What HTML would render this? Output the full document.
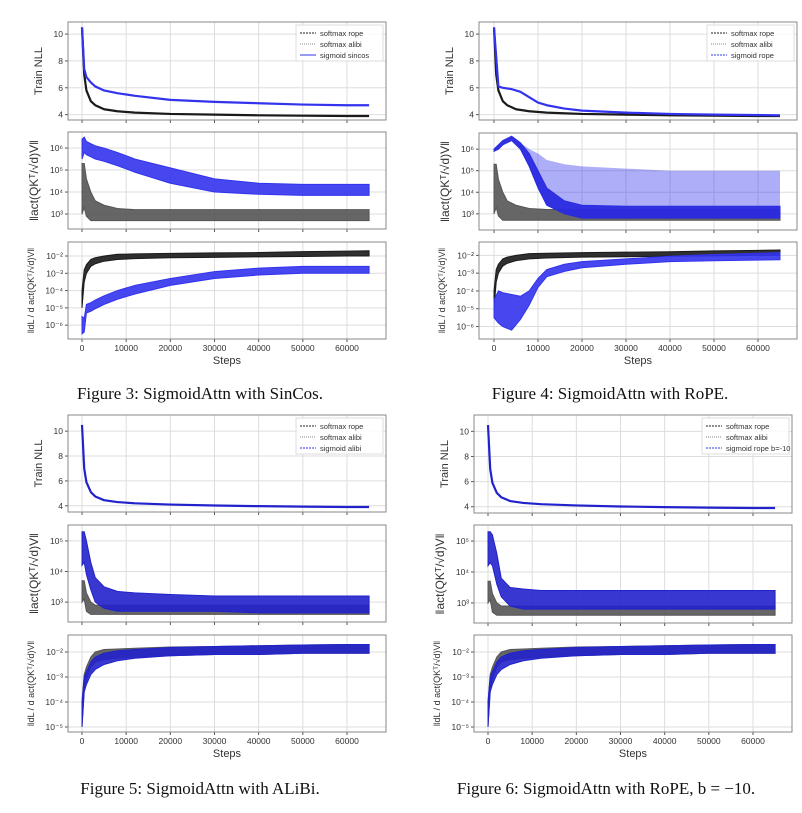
<!DOCTYPE html>
<html><head><meta charset="utf-8">
<style>
body{margin:0;background:#fff;width:802px;height:808px;overflow:hidden}
svg text{font-family:"Liberation Sans",sans-serif}
.cap{font-family:"Liberation Serif",serif;font-size:17px;fill:#111}
</style></head>
<body>
<svg id="chart" width="802" height="808" viewBox="0 0 802 808" xmlns="http://www.w3.org/2000/svg"></svg>
<script>
// ---- data ----
const steps = [0, 500, 1000, 2000, 3000, 5000, 8000, 12000, 20000, 30000, 40000, 50000, 60000, 65000];
const xTicks = [0, 10000, 20000, 30000, 40000, 50000, 60000];
const nllTicks = [4, 6, 8, 10];
// Figure 3
const f3NllSoft = [10.5, 7.0, 5.8, 5.0, 4.7, 4.4, 4.25, 4.15, 4.05, 4.0, 3.95, 3.92, 3.9, 3.9];
const f3NllSig = [10.5, 7.4, 6.8, 6.4, 6.1, 5.8, 5.6, 5.4, 5.1, 4.95, 4.85, 4.75, 4.7, 4.7];
const f3ActSoftLo = [3.0, 3.3, 2.9, 2.7, 2.7, 2.7, 2.7, 2.7, 2.7, 2.7, 2.7, 2.7, 2.7, 2.7];
const f3ActSoftHi = [5.3, 5.3, 4.6, 4.0, 3.6, 3.4, 3.25, 3.2, 3.2, 3.2, 3.2, 3.2, 3.2, 3.2];
const f3ActSigLo = [5.5, 5.8, 5.7, 5.6, 5.5, 5.4, 5.2, 4.9, 4.4, 4.0, 3.9, 3.85, 3.85, 3.85];
const f3ActSigHi = [6.4, 6.5, 6.3, 6.2, 6.1, 6.0, 5.8, 5.5, 5.1, 4.6, 4.4, 4.35, 4.35, 4.35];
const f3GrSoftLo = [-5.0, -3.5, -3.0, -2.6, -2.45, -2.3, -2.2, -2.15, -2.1, -2.08, -2.05, -2.03, -2.0, -2.0];
const f3GrSoftHi = [-4.0, -2.8, -2.5, -2.2, -2.1, -2.0, -1.9, -1.88, -1.85, -1.82, -1.8, -1.75, -1.72, -1.7];
const f3GrSigLo = [-6.5, -6.4, -5.3, -5.2, -5.05, -4.8, -4.5, -4.2, -3.7, -3.3, -3.1, -3.0, -3.0, -3.0];
const f3GrSigHi = [-5.5, -5.6, -4.8, -4.7, -4.55, -4.3, -4.0, -3.7, -3.3, -2.9, -2.7, -2.6, -2.6, -2.6];
// Figure 4
const f4Steps = [0, 1000, 2000, 4000, 6000, 8000, 10000, 12000, 16000, 20000, 30000, 40000, 50000, 65000];
const f4NllSig = [10.5, 6.1, 6.0, 5.9, 5.7, 5.3, 4.9, 4.7, 4.45, 4.3, 4.15, 4.05, 4.0, 3.95];
const f4ActSigLo = [5.9, 6.0, 6.2, 6.4, 6.0, 5.2, 4.2, 3.4, 3.0, 2.8, 2.8, 2.8, 2.8, 2.8];
const f4ActSigHi = [6.0, 6.2, 6.4, 6.6, 6.3, 5.8, 5.0, 4.2, 3.6, 3.4, 3.35, 3.35, 3.35, 3.35];
const f4ActSpikeHi = [6.0, 6.2, 6.4, 6.6, 6.3, 6.0, 5.8, 5.5, 5.3, 5.2, 5.1, 5.0, 5.0, 5.0];
const f4GrSigLo = [-5.5, -5.8, -6.0, -6.2, -5.6, -4.8, -3.8, -3.2, -2.9, -2.7, -2.5, -2.35, -2.3, -2.25];
const f4GrSigHi = [-4.5, -4.0, -4.1, -4.2, -4.3, -4.0, -3.3, -2.8, -2.5, -2.35, -2.2, -2.05, -1.95, -1.85];
// Figures 5/6
const f5NllAll = [10.5, 7.0, 5.9, 5.1, 4.75, 4.45, 4.3, 4.2, 4.1, 4.02, 3.97, 3.93, 3.9, 3.9];
const f5ActSoftLo = [3.0, 3.1, 2.7, 2.6, 2.6, 2.6, 2.6, 2.6, 2.6, 2.6, 2.6, 2.6, 2.6, 2.6];
const f5ActSoftHi = [3.7, 3.7, 3.3, 3.0, 2.9, 2.9, 2.9, 2.9, 2.9, 2.9, 2.9, 2.9, 2.9, 2.9];
const f5ActSigLo = [4.2, 4.3, 3.9, 3.4, 3.0, 2.8, 2.7, 2.7, 2.7, 2.7, 2.65, 2.65, 2.65, 2.65];
const f5ActSigHi = [5.3, 5.3, 5.0, 4.3, 3.8, 3.5, 3.35, 3.3, 3.25, 3.2, 3.2, 3.2, 3.2, 3.2];
const f6ActSigLo = [4.2, 4.3, 4.2, 3.6, 3.2, 2.9, 2.8, 2.8, 2.8, 2.8, 2.8, 2.8, 2.8, 2.8];
const f6ActSigHi = [5.3, 5.3, 5.2, 4.6, 3.8, 3.5, 3.45, 3.4, 3.4, 3.4, 3.4, 3.4, 3.4, 3.4];
const f5GrSoftLo = [-5.0, -3.5, -3.1, -2.6, -2.4, -2.3, -2.25, -2.2, -2.15, -2.1, -2.1, -2.05, -2.05, -2.05];
const f5GrSoftHi = [-4.0, -2.9, -2.6, -2.2, -2.0, -1.9, -1.88, -1.85, -1.8, -1.78, -1.75, -1.72, -1.7, -1.7];
const f5GrSigLo = [-5.0, -3.6, -3.3, -2.9, -2.7, -2.5, -2.35, -2.25, -2.15, -2.1, -2.1, -2.05, -2.05, -2.05];
const f5GrSigHi = [-4.0, -3.0, -2.8, -2.4, -2.2, -2.05, -1.95, -1.9, -1.82, -1.78, -1.75, -1.72, -1.7, -1.7];

const NS = "http://www.w3.org/2000/svg";
const svg = document.getElementById('chart');
function el(tag, attrs, parent, text) {
  const e = document.createElementNS(NS, tag);
  for (const k in attrs) e.setAttribute(k, attrs[k]);
  if (text !== undefined) e.textContent = text;
  (parent || svg).appendChild(e);
  return e;
}
const SUP = {'-':'⁻','0':'⁰','1':'¹','2':'²','3':'³','4':'⁴','5':'⁵','6':'⁶'};
function supStr(n){return String(n).split('').map(c=>SUP[c]).join('');}

function panel(g, fig, top, bot, yMin, yMax, yticks, isLog, series, name) {
  const pg = el('g', {}, g);
  
  
  const X = s => fig.x0 + (s / 60000) * (fig.x60 - fig.x0);
  const Y = v => bot - (v - yMin) / (yMax - yMin) * (bot - top);
  el('rect', {x: fig.px0, y: top, width: fig.px1 - fig.px0, height: bot - top, fill: '#fff'}, pg);
  xTicks.forEach(t => el('line', {x1: X(t), x2: X(t), y1: top, y2: bot, stroke: '#ddd', 'stroke-width': 1}, pg));
  yticks.forEach(t => {
    el('line', {x1: fig.px0, x2: fig.px1, y1: Y(t), y2: Y(t), stroke: '#ddd', 'stroke-width': 1}, pg);
    el('line', {x1: fig.px0 - 3, x2: fig.px0, y1: Y(t), y2: Y(t), stroke: '#555'}, pg);
    const lab = el('text', {x: fig.px0 - 5, y: Y(t) + 3, 'font-size': 8.5, fill: '#333', 'text-anchor': 'end'}, pg, isLog ? '10' + supStr(t) : String(t));
    
    
  });
  xTicks.forEach(t => el('line', {x1: X(t), x2: X(t), y1: bot, y2: bot + 3, stroke: '#555'}, pg));
  series.forEach(s => {
    const st = s.steps || steps;
    let mark;
    if (s.line) {
      const pts = st.map((x, i) => X(x) + ',' + Y(s.line[i])).join(' ');
      mark = el('polyline', {points: pts, fill: 'none', stroke: s.color, 'stroke-width': s.w || 2.2, 'stroke-linejoin': 'round'}, pg);
    } else {
      const up = st.map((x, i) => X(x) + ',' + Y(s.hi[i]));
      const dn = st.map((x, i) => X(x) + ',' + Y(s.lo[i])).reverse();
      mark = el('polygon', {points: up.concat(dn).join(' '), fill: s.color, 'fill-opacity': s.op || 0.9, stroke: s.color, 'stroke-width': s.sw === undefined ? 1 : s.sw}, pg);
    }
    
    
  });
  el('rect', {x: fig.px0, y: top, width: fig.px1 - fig.px0, height: bot - top, fill: 'none', stroke: '#888', 'stroke-width': 1}, pg);
  return {X, Y};
}

function figure(fig) {
  const g = el('g', {});
  
  
  const [p1, p2, p3] = fig.panels;
  panel(g, fig, p1[0], p1[1], p1[2], p1[3], nllTicks, false, fig.s1, 'train-nll-panel');
  panel(g, fig, p2[0], p2[1], p2[2], p2[3], p2[4], true, fig.s2, 'activation-norm-panel');
  const r = panel(g, fig, p3[0], p3[1], p3[2], p3[3], p3[4], true, fig.s3, 'gradient-norm-panel');
  xTicks.forEach(t => {
    const tl = el('text', {x: r.X(t), y: p3[1] + 12, 'font-size': 8.5, fill: '#333', 'text-anchor': 'middle'}, g, String(t));
    
    
  });
  const xt = el('text', {x: (fig.px0 + fig.px1) / 2, y: p3[1] + 25, 'font-size': 11, fill: '#333', 'text-anchor': 'middle'}, g, 'Steps');
  
  
  const yl = (yc, txt, fs, xoff) => {
    const t = el('text', {x: 0, y: 0, 'font-size': fs, fill: '#333', 'text-anchor': 'middle', transform: `translate(${fig.px0 - xoff},${yc}) rotate(-90)`}, g, txt);
    
    
  };
  yl((p1[0] + p1[1]) / 2, 'Train NLL', 11, 26);
  yl((p2[0] + p2[1]) / 2, '‖act(QKᵀ/√d)V‖', 12, 30);
  yl((p3[0] + p3[1]) / 2, '‖dL / d act(QKᵀ/√d)V‖', 9, 34);
  const lx = fig.px1 - 90, ly = p1[0] + 3;
  const lg = el('g', {}, g);
  
  
  el('rect', {x: lx, y: ly, width: 87, height: 36, fill: '#fff', 'fill-opacity': 0.85, stroke: '#ddd'}, lg);
  fig.legend.forEach((L, i) => {
    const yy = ly + 8 + i * 11;
    const e = el('g', {}, lg);
    
    
    el('line', {x1: lx + 4, x2: lx + 20, y1: yy, y2: yy, stroke: L[1], 'stroke-width': 1, 'stroke-dasharray': L[2]}, e);
    el('text', {x: lx + 24, y: yy + 3, 'font-size': 7.5, fill: '#333'}, e, L[0]);
  });
  const cap = el('text', {x: fig.capX, y: fig.capY, class: 'cap', 'text-anchor': 'middle'}, g, fig.caption);
  
  
}

const BLK = '#1a1a1a', GRY = '#555', BLU = '#3333ee', DBL = '#2222cc';
const leg = (third) => [['softmax rope', '#222', '2,1'], ['softmax alibi', '#888', '1,1'], [third, BLU, third.indexOf('sincos') >= 0 ? '' : '2,1']];

figure({name: 'figure-3', px0: 68, px1: 386, x0: 82, x60: 347, capX: 200, capY: 399, caption: 'Figure 3: SigmoidAttn with SinCos.',
  panels: [[22, 120, 3.6, 10.9], [132, 229, 2.32, 6.73, [3, 4, 5, 6]], [242, 339, -6.8, -1.19, [-6, -5, -4, -3, -2]]],
  legend: leg('sigmoid sincos'),
  s1: [{name: 'nll-softmax', line: f3NllSoft, color: BLK}, {name: 'nll-sigmoid', line: f3NllSig, color: BLU}],
  s2: [{name: 'act-sigmoid', lo: f3ActSigLo, hi: f3ActSigHi, color: BLU}, {name: 'act-softmax', lo: f3ActSoftLo, hi: f3ActSoftHi, color: GRY}],
  s3: [{name: 'grad-softmax', lo: f3GrSoftLo, hi: f3GrSoftHi, color: BLK}, {name: 'grad-sigmoid', lo: f3GrSigLo, hi: f3GrSigHi, color: BLU}]});

figure({name: 'figure-4', px0: 479, px1: 797, x0: 494, x60: 758, capX: 610, capY: 399, caption: 'Figure 4: SigmoidAttn with RoPE.',
  panels: [[22, 120, 3.6, 10.9], [133, 230, 2.25, 6.75, [3, 4, 5, 6]], [242, 339, -6.7, -1.25, [-6, -5, -4, -3, -2]]],
  legend: leg('sigmoid rope'),
  s1: [{name: 'nll-softmax', line: f3NllSoft, color: BLK}, {name: 'nll-sigmoid', steps: f4Steps, line: f4NllSig, color: BLU}],
  s2: [{name: 'act-softmax', lo: f3ActSoftLo, hi: f3ActSoftHi, color: GRY},
       {name: 'act-sigmoid-spikes', steps: f4Steps, lo: f4ActSigLo, hi: f4ActSpikeHi, color: BLU, op: 0.4, sw: 0},
       {name: 'act-sigmoid', steps: f4Steps, lo: f4ActSigLo, hi: f4ActSigHi, color: '#2a2ae0', op: 0.95}],
  s3: [{name: 'grad-softmax', lo: f3GrSoftLo, hi: f3GrSoftHi, color: BLK}, {name: 'grad-sigmoid', steps: f4Steps, lo: f4GrSigLo, hi: f4GrSigHi, color: BLU}]});

figure({name: 'figure-5', px0: 68, px1: 386, x0: 82, x60: 347, capX: 200, capY: 794, caption: 'Figure 5: SigmoidAttn with ALiBi.',
  panels: [[415, 512, 3.5, 11.3], [525, 622, 2.35, 5.52, [3, 4, 5]], [635, 732, -5.2, -1.32, [-5, -4, -3, -2]]],
  legend: leg('sigmoid alibi'),
  s1: [{name: 'nll-all', line: f5NllAll, color: DBL}],
  s2: [{name: 'act-softmax', lo: f5ActSoftLo, hi: f5ActSoftHi, color: GRY}, {name: 'act-sigmoid', lo: f5ActSigLo, hi: f5ActSigHi, color: DBL}],
  s3: [{name: 'grad-softmax', lo: f5GrSoftLo, hi: f5GrSoftHi, color: GRY}, {name: 'grad-sigmoid', lo: f5GrSigLo, hi: f5GrSigHi, color: DBL}]});

figure({name: 'figure-6', px0: 474, px1: 792, x0: 488, x60: 753, capX: 606, capY: 794, caption: 'Figure 6: SigmoidAttn with RoPE, b = −10.',
  panels: [[415, 513, 3.5, 11.3], [525, 623, 2.35, 5.52, [3, 4, 5]], [635, 732, -5.2, -1.32, [-5, -4, -3, -2]]],
  legend: leg('sigmoid rope b=-10'),
  s1: [{name: 'nll-all', line: f5NllAll, color: DBL}],
  s2: [{name: 'act-softmax', lo: f5ActSoftLo, hi: f5ActSoftHi, color: GRY}, {name: 'act-sigmoid', lo: f6ActSigLo, hi: f6ActSigHi, color: DBL}],
  s3: [{name: 'grad-softmax', lo: f5GrSoftLo, hi: f5GrSoftHi, color: GRY}, {name: 'grad-sigmoid', lo: f5GrSigLo, hi: f5GrSigHi, color: DBL}]});
</script>
</body></html>
